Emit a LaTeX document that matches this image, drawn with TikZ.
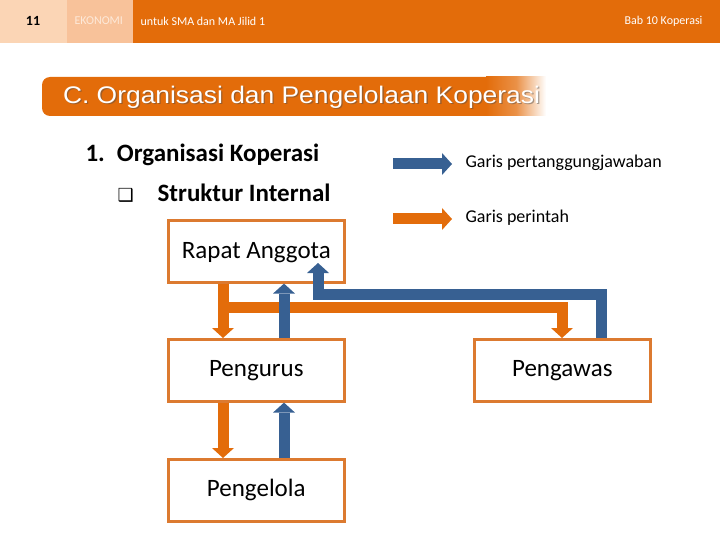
\documentclass[tikz,border=0pt]{standalone}
\usepackage{fontspec}
\setmainfont{Carlito}
\newfontfamily\arialfont[FakeStretch=1.1]{Liberation Sans}
\newfontfamily\symfont{DejaVu Sans}
\usetikzlibrary{arrows.meta,calc}
\definecolor{orng}{HTML}{E36C0A}
\definecolor{bordr}{HTML}{DC7A30}
\definecolor{blu}{HTML}{376092}
\definecolor{peach}{HTML}{FBD5B5}
\definecolor{peach2}{HTML}{F8C29A}
\definecolor{lighttxt}{HTML}{FDE9D9}
\tikzset{
  orgbox/.style={draw=bordr, line width=2.6pt, fill=white, minimum width=176pt, minimum height=62pt, inner sep=0pt, anchor=north west},
  boxtxt/.style={font=\fontsize{25}{30}\selectfont},
  bigtip/.style={-{Triangle[length=10pt 0 0, width=22pt 0 0, line width=0pt 0 0]}},
  cmd/.style={draw=orng, line width=11pt, line cap=butt, line join=miter, bigtip},
  resp/.style={draw=blu, line width=11pt, line cap=butt, line join=miter, bigtip},
  hdr/.style={text=white, font=\fontsize{12}{14}\selectfont, anchor=west},
  legtxt/.style={font=\fontsize{18}{21}\selectfont, anchor=west},
  listtxt/.style={font=\bfseries\fontsize{25}{30}\selectfont, anchor=west},
}
\begin{document}
\begin{tikzpicture}[x=1pt,y=-1pt]
\useasboundingbox (0,0) rectangle (720,540);
% header
\fill[peach] (0,0) rectangle (67,43);
\fill[peach2] (67,0) rectangle (133,43);
\fill[orng] (133,0) rectangle (720,43);
\node[font=\bfseries\fontsize{14}{16}\selectfont] (pg) at (33,21) {11};
\node[hdr, text=lighttxt] (ek) at (71,21) {EKONOMI};
\node[hdr] (sub) at (137,21) {untuk SMA dan MA Jilid 1};
\node[hdr, anchor=east] (bab) at (706,21) {Bab 10 Koperasi};
% title bar
\fill[orng, rounded corners=8pt] (42,77) rectangle (530,116);
\shade[left color=orng, right color=white, middle color=orng!75!white] (486,77) rectangle (546,116);
\node[text=black!70, opacity=0.45, font=\arialfont\fontsize{24}{28}\selectfont, anchor=west] at (60.8,98.3) {C. Organisasi dan Pengelolaan Koperasi};
\node[text=white, font=\arialfont\fontsize{24}{28}\selectfont, anchor=west] (title) at (59.5,97) {C. Organisasi dan Pengelolaan Koperasi};
% list
\node[listtxt] (l1) at (82,155) {1.\hspace{12pt}Organisasi Koperasi};
\node[listtxt] (l2) at (114,193) {{\symfont\fontsize{18}{20}\selectfont ❑}\hspace{24pt}Struktur Internal};
% legend
\coordinate (lb1) at (393,164);
\coordinate (lb2) at (452,164);
\coordinate (lo1) at (393,219);
\coordinate (lo2) at (452,219);
\draw[resp] (lb1) -- (lb2);
\draw[cmd] (lo1) -- (lo2);
\node[legtxt] (tb) at (462,163) {Garis pertanggungjawaban};
\node[legtxt] (to) at (462,218) {Garis perintah};
% boxes
\node[orgbox] (ra) at (167,219) {};
\node[orgbox] (pu) at (167,338) {};
\node[orgbox] (pl) at (167,458) {};
\node[orgbox] (pw) at (473,338) {};
% arrows
\draw[cmd] (ra.south west -| 223,0) -- (223,307) -| (562,0 |- pw.north);
\draw[cmd] (223,0 |- ra.south) -- (223,0 |- pu.north);
\draw[resp] (284,0 |- pu.north) -- (284,0 |- ra.south);
\draw[resp] (601,0 |- pw.north) |- (318,294) -- (318,263);
\draw[cmd] (223,0 |- pu.south) -- (223,0 |- pl.north);
\draw[resp] (284,0 |- pl.north) -- (284,0 |- pu.south);
% labels
\node[boxtxt] at ($(ra.center)+(0,1)$) {Rapat Anggota};
\node[boxtxt] at (pu.center) {Pengurus};
\node[boxtxt] at (pl.center) {Pengelola};
\node[boxtxt] at (pw.center) {Pengawas};
\end{tikzpicture}
\end{document}
